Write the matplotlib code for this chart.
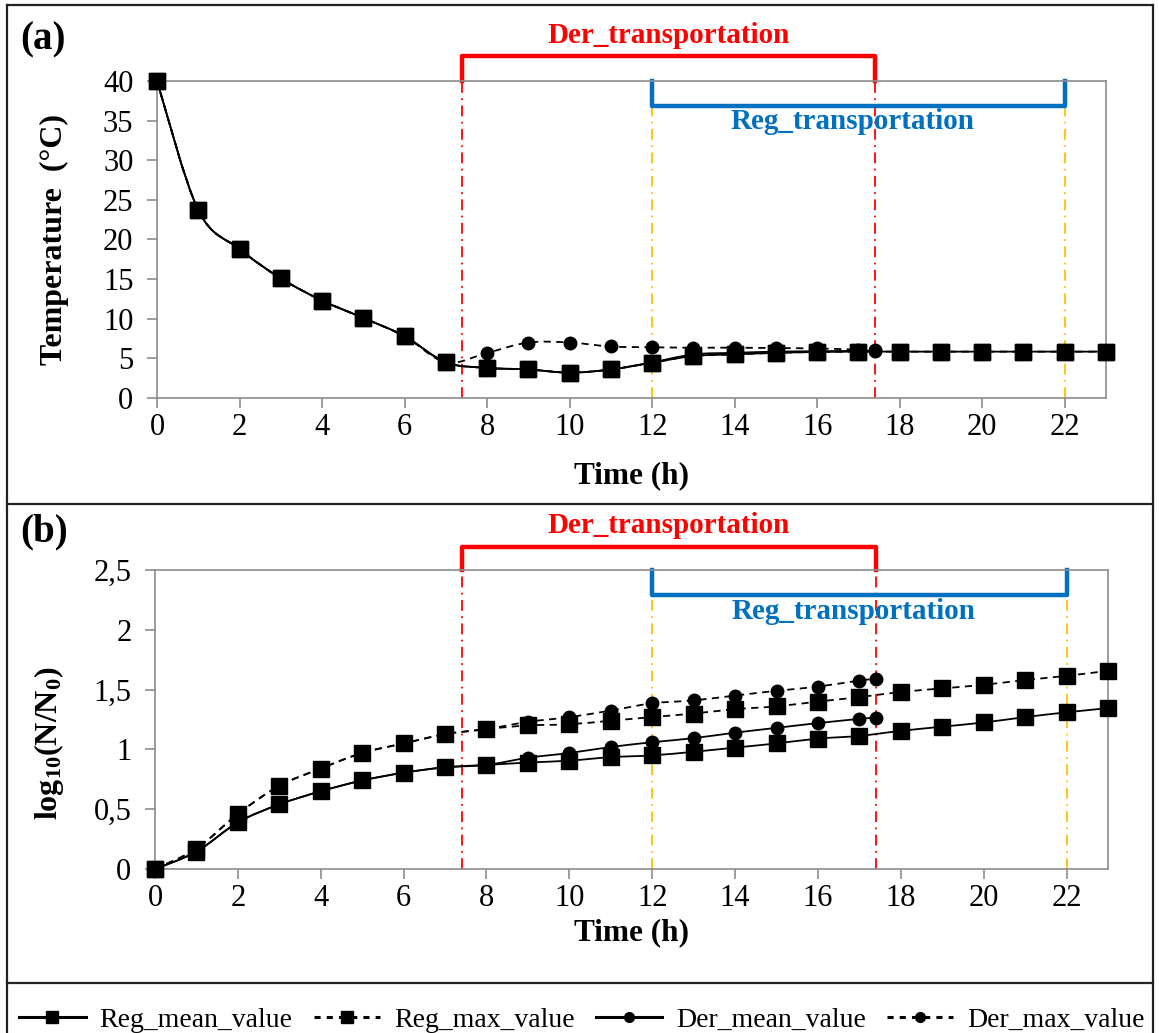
import matplotlib
matplotlib.use("Agg")
import matplotlib.pyplot as plt
import matplotlib.transforms as mtransforms
from matplotlib.lines import Line2D
from matplotlib.path import Path
from matplotlib.patches import PathPatch
from matplotlib.ticker import FuncFormatter

plt.rcParams['font.family'] = 'Liberation Serif'
plt.rcParams['mathtext.fontset'] = 'custom'
plt.rcParams['mathtext.rm'] = 'Liberation Serif'
plt.rcParams['mathtext.bf'] = 'Liberation Serif:bold'
plt.rcParams['mathtext.it'] = 'Liberation Serif:italic'

# ---- data ----
hours_reg = list(range(24))
hours_der = list(range(18)) + [17.4]

reg_mean_temp = [40, 23.7, 18.8, 15.1, 12.3, 10.1, 7.8, 4.5, 3.8, 3.6, 3.2, 3.6,
                 4.45, 5.3, 5.5, 5.7, 5.8, 5.85, 5.85, 5.85, 5.85, 5.85, 5.85, 5.85]
reg_max_temp = [40, 23.7, 18.8, 15.1, 12.3, 10.1, 7.8, 4.5, 3.8, 3.6, 3.2, 3.6,
                4.45, 5.3, 5.5, 5.7, 5.8, 5.85, 5.85, 5.85, 5.85, 5.85, 5.85, 5.85]
der_mean_temp = [40, 23.7, 18.8, 15.1, 12.3, 10.1, 7.8, 4.5, 3.8, 3.6, 3.2, 3.6,
                 4.5, 5.5, 5.7, 5.85, 5.9, 5.95, 5.95]
der_max_temp = [40, 23.7, 18.8, 15.1, 12.3, 10.1, 7.8, 4.5, 5.7, 7.0, 7.0, 6.5,
                6.4, 6.35, 6.35, 6.3, 6.25, 6.1, 6.0]

reg_mean_log = [0, 0.145, 0.39, 0.54, 0.65, 0.74, 0.805, 0.85, 0.87, 0.89, 0.906, 0.935,
                0.95, 0.98, 1.015, 1.05, 1.09, 1.113, 1.155, 1.19, 1.225, 1.27, 1.31, 1.345]
reg_max_log = [0, 0.17, 0.46, 0.695, 0.84, 0.97, 1.05, 1.127, 1.17, 1.2, 1.21, 1.24,
               1.27, 1.30, 1.336, 1.36, 1.40, 1.437, 1.48, 1.51, 1.54, 1.58, 1.615, 1.657]
der_mean_log = [0, 0.145, 0.39, 0.54, 0.65, 0.74, 0.805, 0.85, 0.87, 0.93, 0.97, 1.02,
                1.06, 1.094, 1.14, 1.18, 1.22, 1.255, 1.266]
der_max_log = [0, 0.17, 0.46, 0.695, 0.84, 0.97, 1.05, 1.127, 1.17, 1.23, 1.27, 1.325,
               1.385, 1.41, 1.45, 1.49, 1.525, 1.576, 1.59]

der_window = (7.4, 17.4)
reg_window = (12, 22)

W, H = 1159, 1033
fig = plt.figure(figsize=(W / 100, H / 100), dpi=100)

ax1 = fig.add_axes([157 / W, 1 - 398 / H, (1106 - 157) / W, (398 - 81) / H])
ax2 = fig.add_axes([155 / W, 1 - 869 / H, (1108 - 155) / W, (869 - 570) / H])

gray = '#8c8c8c'
red = '#ff0000'
blue = '#0070c0'
yellow = '#ffc000'
dash = (0, (4, 3))


def smooth_path(xs, ys):
    # Excel-style smoothed line: cubic Bezier through every point
    pts = list(zip(xs, ys))
    verts = [pts[0]]
    codes = [Path.MOVETO]
    n = len(pts)
    for i in range(n - 1):
        p0 = pts[max(i - 1, 0)]
        p1 = pts[i]
        p2 = pts[i + 1]
        p3 = pts[min(i + 2, n - 1)]
        c1 = (p1[0] + (p2[0] - p0[0]) / 6, p1[1] + (p2[1] - p0[1]) / 6)
        c2 = (p2[0] - (p3[0] - p1[0]) / 6, p2[1] - (p3[1] - p1[1]) / 6)
        verts += [c1, c2, p2]
        codes += [Path.CURVE4] * 3
    return Path(verts, codes)


def series(ax, xs, ys, marker, ms, ls, z):
    ax.add_patch(PathPatch(smooth_path(xs, ys), fill=False, edgecolor='black',
                           lw=1.3, linestyle=ls, clip_on=False, zorder=z))
    ax.plot(xs, ys, ls='none', marker=marker, ms=ms, color='black',
            clip_on=False, zorder=z + 0.5)


def draw_series(ax, reg_mean, reg_max, der_mean, der_max):
    series(ax, hours_der, der_mean, 'o', 9, '-', 3)
    series(ax, hours_der, der_max, 'o', 9, dash, 3)
    series(ax, hours_reg, reg_mean, 's', 11, '-', 4)
    series(ax, hours_reg, reg_max, 's', 11, dash, 4)


def style_axis(ax, yticks, fmt=None):
    for s in ax.spines.values():
        s.set_color(gray)
        s.set_linewidth(1.2)
    ax.set_xlim(0, 23)
    ax.set_xticks(range(0, 23, 2))
    ax.set_yticks(yticks)
    ax.set_ylim(yticks[0], yticks[-1])
    ax.tick_params(axis='both', colors=gray, labelcolor='black', labelsize=22,
                   length=7, width=1.2, direction='out')
    ax.tick_params(axis='y', pad=10)
    ax.tick_params(axis='x', pad=4)
    if fmt is not None:
        ax.yaxis.set_major_formatter(FuncFormatter(fmt))


def draw_windows(ax, red_h, red_t, blue_h, blue_t):
    trans = mtransforms.blended_transform_factory(ax.transData, ax.transAxes)
    for x in der_window:
        ax.axvline(x, color=red, lw=1.3, ls=(0, (6, 3, 1, 3)), zorder=1)
    for x in reg_window:
        ax.axvline(x, color=yellow, lw=1.3, ls=(0, (6, 3, 1, 3)), zorder=1)
    x0, x1 = der_window
    ax.plot([x0, x0, x1, x1], [1, red_h, red_h, 1], color=red, lw=3.2,
            transform=trans, clip_on=False, solid_joinstyle='round')
    ax.text((x0 + x1) / 2, red_t, 'Der_transportation', color=red, fontsize=21,
            fontweight='bold', ha='center', va='center', transform=trans)
    x0, x1 = reg_window
    ax.plot([x0, x0, x1, x1], [1, blue_h, blue_h, 1], color=blue, lw=3.2,
            transform=trans, clip_on=False, solid_joinstyle='round')
    ax.text(16.85, blue_t, 'Reg_transportation', color=blue, fontsize=21,
            fontweight='bold', ha='center', va='center', transform=trans)


# ---- panel (a) ----
draw_series(ax1, reg_mean_temp, reg_max_temp, der_mean_temp, der_max_temp)
style_axis(ax1, [0, 5, 10, 15, 20, 25, 30, 35, 40])
draw_windows(ax1, 1.079, 1.145, 0.921, 0.871)
ax1.set_xlabel('Time (h)', fontsize=22.5, fontweight='bold')
ax1.xaxis.set_label_coords(0.5, -0.2)
ax1.set_ylabel('Temperature  (°C)', fontsize=23, fontweight='bold')
ax1.yaxis.set_label_coords(-0.093, 0.5)

# ---- panel (b) ----
draw_series(ax2, reg_mean_log, reg_max_log, der_mean_log, der_max_log)
style_axis(ax2, [0, 0.5, 1, 1.5, 2, 2.5],
           fmt=lambda v, p: ('%g' % v).replace('.', ','))
draw_windows(ax2, 1.078, 1.15, 0.916, 0.86)
ax2.set_xlabel('Time (h)', fontsize=22.5, fontweight='bold')
ax2.xaxis.set_label_coords(0.5, -0.165)
ax2.set_ylabel(r'$\mathbf{log_{10}(N/N_0)}$', fontsize=23)
ax2.yaxis.set_label_coords(-0.093, 0.42)

fig.text(20 / W, 1 - 40 / H, '(a)', fontsize=28, fontweight='bold', va='center')
fig.text(20 / W, 1 - 532 / H, '(b)', fontsize=28, fontweight='bold', va='center')

# ---- frame and separators ----
for yy in [5, 503.5, 982.5]:
    fig.add_artist(Line2D([7 / W, 1153 / W], [1 - yy / H, 1 - yy / H],
                          color='#222222', lw=1.6, transform=fig.transFigure))
for xx in [7, 1153]:
    fig.add_artist(Line2D([xx / W, xx / W], [1 - 5 / H, 0], color='#222222',
                          lw=1.6, transform=fig.transFigure))

# ---- legend ----
leg_handles = [
    Line2D([], [], color='black', lw=2.2, marker='s', ms=8),
    Line2D([], [], color='black', lw=2.2, ls=(0, (2, 2)), marker='s', ms=8),
    Line2D([], [], color='black', lw=2.2, marker='o', ms=7),
    Line2D([], [], color='black', lw=2.2, ls=(0, (2, 2)), marker='o', ms=7),
]
leg_labels = ['Reg_mean_value', 'Reg_max_value', 'Der_mean_value', 'Der_max_value']
fig.legend(leg_handles, leg_labels, loc='center',
           bbox_to_anchor=(582 / W, 1 - 1020 / H), ncol=4, frameon=False,
           fontsize=20, handlelength=2.4, handletextpad=0.5,
           columnspacing=0.75, borderaxespad=0)

fig.savefig('out.png', dpi=100)
